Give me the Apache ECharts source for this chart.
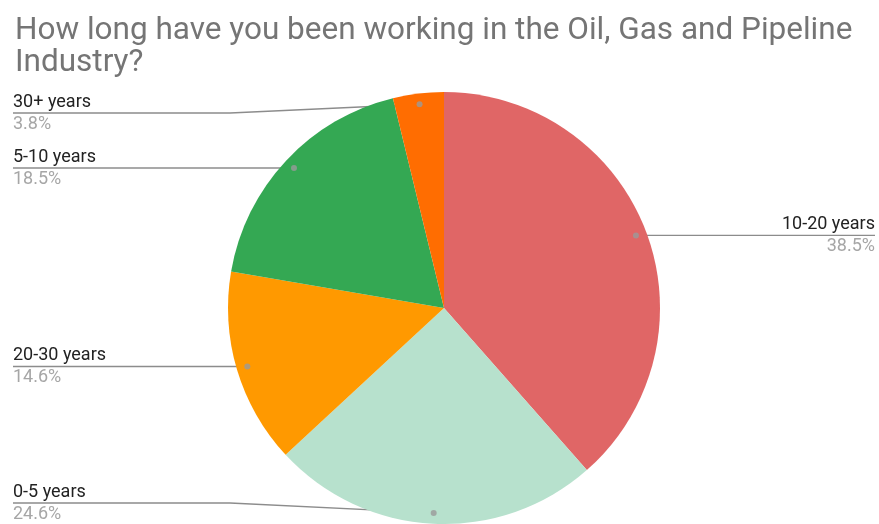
<!DOCTYPE html>
<html>
<head>
<meta charset="utf-8">
<script src="https://cdn.jsdelivr.net/npm/echarts@6/dist/echarts.min.js"></script>
<style>
  html, body { margin: 0; padding: 0; background: #fff; }
  #chart { width: 879px; height: 524px; }
</style>
</head>
<body>
<div id="chart"></div>
<script>
// Survey answers, clockwise from 12 o'clock
const categories = ['10-20 years', '0-5 years', '20-30 years', '5-10 years', '30+ years'];
const shares = [38.5, 24.6, 14.6, 18.5, 3.8];
const sliceColors = ['#e06666', '#b7e1cd', '#ff9900', '#34a853', '#ff6d01'];

// Pie geometry
const CX = 444, CY = 308, R = 216;
const DOT_R = 0.95;           // leader-line start, as a fraction of the radius
const LEFT_X = 13, RIGHT_X = 875;
const TOP_Y = 113, BOTTOM_Y = 503;

// middle of each slice, in percent around the circle
const total = shares.reduce((s, v) => s + v, 0);
const midPct = [];
let acc = 0;
shares.forEach(v => { midPct.push((acc + v / 2) / total * 100); acc += v; });

function dotPoint(i) {
  const a = midPct[i] / 100 * Math.PI * 2;
  return [CX + R * DOT_R * Math.sin(a), CY - R * DOT_R * Math.cos(a)];
}

const chart = echarts.init(document.getElementById('chart'), null, { renderer: 'canvas' });

chart.setOption({
  animation: false,
  backgroundColor: '#ffffff',
  title: {
    text: 'How long have you been working in the Oil, Gas and Pipeline\nIndustry?',
    left: 10,
    top: 10,
    textStyle: {
      fontFamily: 'Roboto',
      fontSize: 31.5,
      fontWeight: 'normal',
      color: '#757575',
      lineHeight: 32
    }
  },
  polar: { center: [CX, CY], radius: R },
  angleAxis: {
    type: 'value', min: 0, max: 100, startAngle: 90, clockwise: true,
    show: false, axisLine: { show: false }, splitLine: { show: false },
    axisLabel: { show: false }, axisTick: { show: false }
  },
  radiusAxis: {
    type: 'value', min: 0, max: 1,
    show: false, axisLine: { show: false }, splitLine: { show: false },
    axisLabel: { show: false }, axisTick: { show: false }
  },
  series: [
    {
      type: 'pie',
      center: [CX, CY],
      radius: R,
      startAngle: 90,
      clockwise: true,
      data: categories.map((name, i) => ({
        name,
        value: shares[i],
        itemStyle: { color: sliceColors[i] }
      })),
      itemStyle: { borderWidth: 0 },
      emphasis: { disabled: true },
      label: {
        show: true,
        position: 'outside',
        formatter: p => '{n|' + p.name + '}\n{p|' + p.value + '%}',
        rich: {
          n: { fontFamily: 'Roboto', fontSize: 18, color: '#222222', lineHeight: 22 },
          p: { fontFamily: 'Roboto', fontSize: 18, color: '#a6a6a6', lineHeight: 22 }
        }
      },
      labelLine: {
        show: true,
        length: 10,
        length2: 10,
        smooth: false,
        lineStyle: { color: '#8c8c8c', width: 1.3 }
      },
      labelLayout: params => {
        const i = params.dataIndex;
        const [dx, dy] = dotPoint(i);
        const right = dx > CX;
        const y = Math.min(BOTTOM_Y, Math.max(TOP_Y, dy));
        const x = right ? RIGHT_X : LEFT_X;
        const bendX = right ? Math.max(dx, 660) : Math.min(dx, 230);
        return {
          x: x,
          y: y,
          align: right ? 'right' : 'left',
          verticalAlign: 'middle',
          labelLinePoints: [[dx, dy], [bendX, y], [x, y]]
        };
      },
      z: 1
    },
    {
      // small markers where each leader line starts
      type: 'scatter',
      coordinateSystem: 'polar',
      symbol: 'circle',
      symbolSize: 6,
      itemStyle: { color: '#9a9a9a' },
      silent: true,
      data: midPct.map(m => [DOT_R, m]),
      z: 5
    }
  ]
});
</script>
</body>
</html>
